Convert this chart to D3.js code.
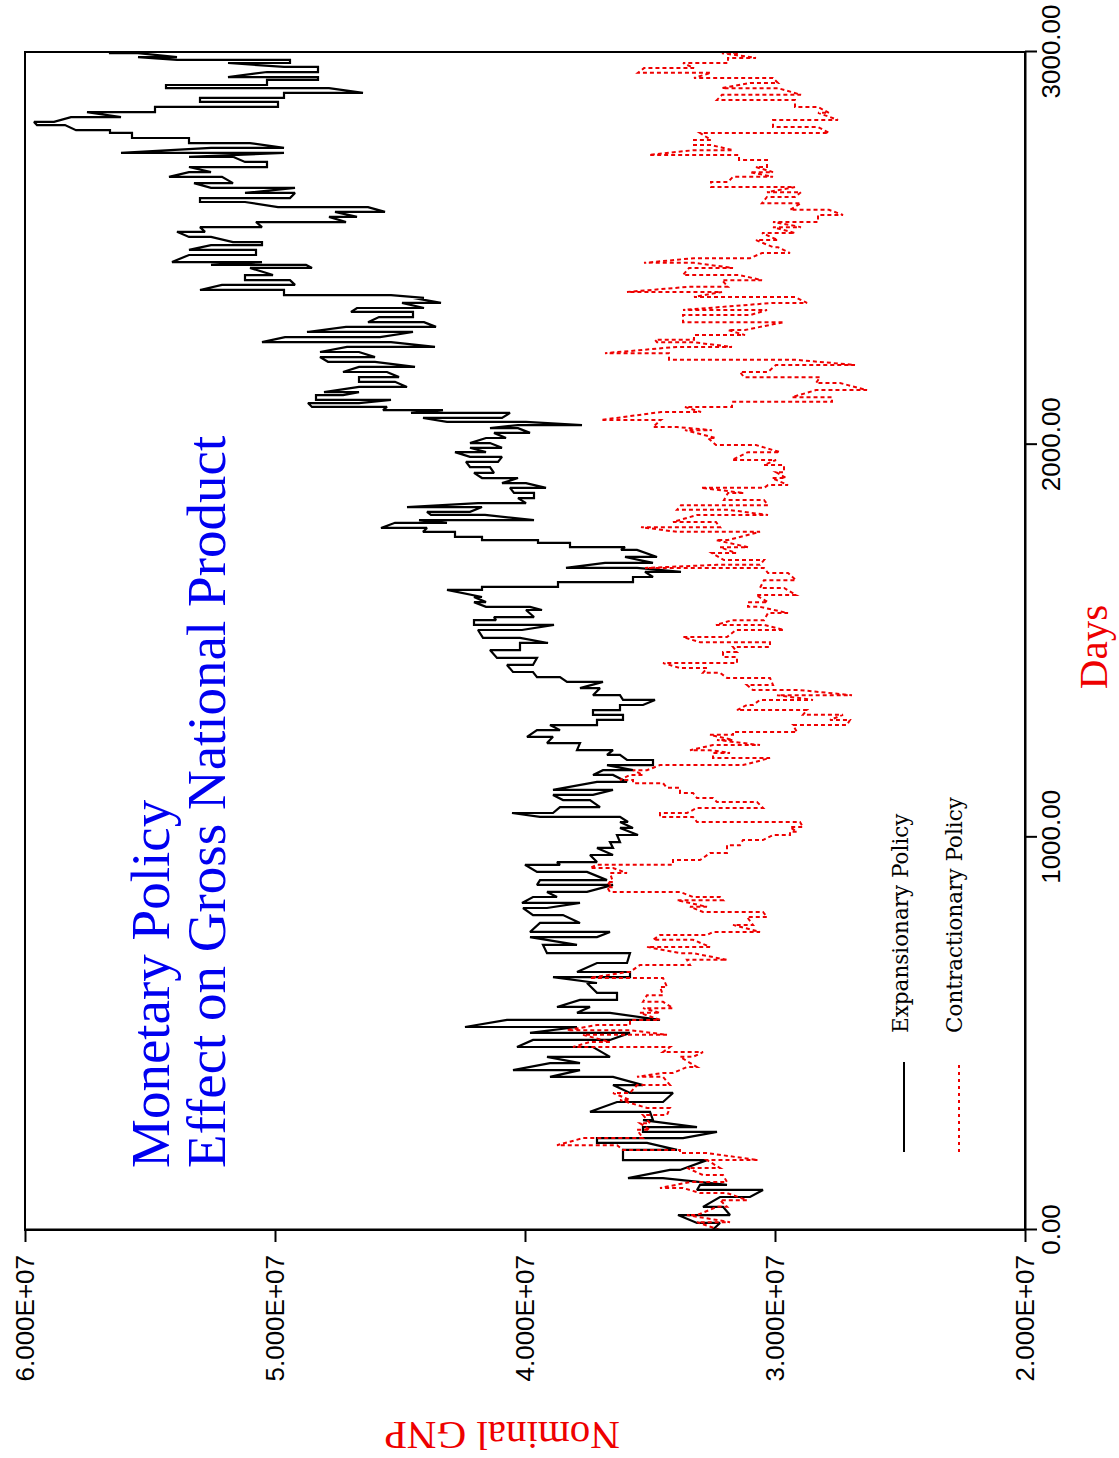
<!DOCTYPE html>
<html><head><meta charset="utf-8">
<script src="https://cdn.jsdelivr.net/npm/d3@7"></script>
<style>html,body{margin:0;padding:0;background:#fff;} svg{display:block;}</style>
</head><body>
<svg id="chart" width="1119" height="1458"></svg>
<script>
// ---------------- DATA ----------------
// Days axis ticks and GNP axis ticks (GNP values in millions)
const dayTicks = [0, 1000, 2000, 3000];
const gnpTicks = [20, 30, 40, 50, 60];

// Expansionary policy: each row = one day with the two extremes reached that day (millions)
const expDays = [
0,18,38,59,84,102,115,132,153,178,
204,222,234,250,262,280,301,326,349,369,
390,407,425,441,466,484,502,517,535,553,
568,586,604,629,644,657,680,705,726,746,
759,782,802,820,833,848,861,879,891,912,
930,937,955,973,988,1006,1024,1039,1052,1062,
1077,1095,1108,1121,1141,1159,1171,1184,1197,1210,
1222,1240,1256,1273,1286,1299,1312,1324,1337,1350,
1362,1380,1396,1408,1421,1439,1457,1477,1495,1508,
1528,1541,1553,1561,1579,1587,1599,1612,1630,1638,
1650,1663,1676,1686,1699,1714,1732,1739,1750,1757,
1765,1778,1788,1801,1808,1821,1829,1841,1851,1864,
1877,1890,1902,1915,1928,1943,1956,1969,1981,1992,
2004,2017,2030,2042,2050,2058,2068,2081,2088,2096,
2106,2114,2126,2134,2147,2160,2172,2185,2198,2211,
2223,2236,2249,2261,2274,2287,2300,2312,2325,2338,
2348,2361,2374,2381,2394,2407,2419,2432,2450,2458,
2465,2483,2496,2508,2516,2529,2542,2554,2567,2580,
2593,2605,2618,2628,2641,2654,2666,2682,2694,2707,
2720,2733,2743,2756,2768,2781,2794,2801,2814,2822,
2834,2847,2860,2873,2883,2896,2908,2916,2929,2936,
2949,2962,2972,2980,2987,2997,3000];
const expA = [
32.5,32.2,33.88,32.08,32.2,30.48,33.0,34.48,34.2,32.72,
36.08,35.12,37.12,32.32,35.28,35.28,35.0,36.32,34.08,36.48,
36.48,37.8,39.0,39.12,37.28,39.68,35.8,37.92,40.72,36.6,
37.4,37.8,36.32,37.52,38.88,35.8,37.12,35.8,39.28,39.8,
36.6,39.4,38.48,40.08,37.8,39.68,39.12,36.48,39.4,37.52,
40.0,38.72,37.4,37.12,36.6,36.32,36.2,36.2,36.2,40.52,
38.6,37.4,38.88,36.48,37.12,36.48,36.88,36.72,34.88,36.2,
36.48,37.8,38.88,39.52,39.0,37.12,36.08,37.28,36.2,34.8,
36.2,37.0,36.88,38.6,39.68,40.72,39.52,41.4,40.2,40.2,
41.88,38.84,42.04,41.24,39.96,39.8,42.04,42.04,43.12,41.72,
38.68,35.68,35.2,35.52,36.8,36.0,35.52,36.0,38.2,39.48,
41.72,42.8,43.92,45.2,44.24,41.6,43.92,41.72,41.88,40.28,
39.64,40.6,39.96,40.28,42.04,41.4,42.36,40.92,42.8,42.2,
41.4,41.56,41.24,40.28,40.28,39.96,44.08,40.6,43.28,45.52,
48.68,45.36,48.36,46.64,46.64,45.2,46.64,45.52,46.64,46.0,
48.2,46.64,47.12,45.36,49.6,44.48,47.16,44.04,45.84,44.48,
46.72,44.92,44.48,45.36,49.64,52.12,49.4,51.2,51.0,48.76,
50.52,53.44,50.76,52.56,50.52,52.56,53.92,53.0,50.76,47.84,
47.6,46.28,51.2,53.0,49.2,49.2,53.24,52.12,53.44,53.44,
50.32,51.68,49.64,52.56,51.0,53.44,55.72,56.6,58.4,59.64,
58.16,57.52,54.8,49.88,53.0,49.64,47.84,54.36,50.32,48.28,
50.32,48.28,51.88,49.4,55.48,55.48,56.6];
const expB = [
32.5,33.12,31.8,32.88,31.0,33.12,31.92,35.88,33.8,36.08,
33.92,37.12,33.68,35.28,33.12,34.88,37.4,34.48,35.8,35.28,
39.0,40.48,37.8,36.6,40.32,36.6,39.8,42.4,34.6,37.92,
38.72,36.32,37.12,37.12,35.8,37.92,35.92,39.12,37.92,37.12,
39.8,37.8,39.68,39.12,40.12,38.72,37.52,39.52,36.72,39.52,
38.6,37.12,36.48,36.48,36.2,35.48,35.68,35.88,39.4,38.88,
37.0,38.48,37.28,38.88,35.92,37.28,35.68,34.88,35.92,36.72,
37.92,39.12,39.92,38.6,37.12,36.08,37.28,36.2,35.28,36.08,
37.28,37.8,38.32,39.52,40.48,39.68,41.12,40.2,39.08,41.68,
40.12,42.04,41.16,39.64,39.32,41.56,41.56,41.72,41.72,38.68,
35.68,34.88,33.76,38.36,34.88,34.72,36.16,38.2,39.48,41.72,
42.8,44.08,45.76,43.12,39.64,43.76,42.2,44.72,39.96,39.64,
40.44,39.16,40.92,41.72,41.24,42.2,41.08,42.2,41.56,40.92,
42.2,40.76,39.8,41.4,37.72,43.12,40.92,44.56,45.68,48.52,
46.64,48.36,47.28,48.04,44.72,46.64,45.04,47.28,44.4,47.88,
46.0,48.2,43.6,50.52,45.8,48.72,43.56,46.28,44.48,46.96,
44.04,43.36,44.04,49.64,53.0,49.2,51.2,50.08,48.52,52.56,
54.12,50.76,53.44,50.52,51.68,53.44,52.8,50.52,47.16,46.72,
45.6,49.88,53.0,49.4,51.2,52.56,51.68,54.24,52.56,50.32,
51.2,53.44,56.16,49.64,53.44,55.72,56.6,57.96,59.52,58.84,
56.16,54.8,49.88,53.0,49.64,46.48,54.36,50.32,48.28,51.88,
48.28,49.64,49.4,53.92,53.92,56.6,56.6];

// Contractionary policy
const conDays = [
0,20,38,59,76,94,107,122,140,158,
178,196,204,216,234,255,272,293,311,331,
349,369,390,400,415,441,453,466,479,497,
509,522,535,553,565,581,598,619,642,657,
675,688,705,721,739,751,759,777,797,810,
823,840,848,861,873,886,909,922,930,942,
960,980,993,1006,1014,1026,1039,1052,1062,1075,
1090,1100,1113,1126,1138,1146,1159,1171,1184,1202,
1215,1222,1235,1248,1261,1268,1286,1299,1312,1324,
1337,1350,1362,1375,1388,1406,1419,1431,1444,1459,
1472,1485,1497,1510,1528,1541,1553,1571,1587,1599,
1617,1635,1655,1673,1686,1694,1706,1724,1739,1757,
1778,1790,1803,1821,1834,1846,1859,1877,1890,1897,
1915,1930,1948,1961,1981,1999,2017,2037,2045,2063,
2083,2096,2109,2121,2139,2157,2172,2185,2203,2216,
2233,2249,2261,2267,2279,2292,2312,2330,2343,2361,
2376,2389,2402,2419,2432,2450,2463,2475,2488,2503,
2521,2539,2554,2567,2585,2598,2615,2631,2643,2656,
2669,2682,2694,2707,2725,2738,2750,2763,2776,2794,
2809,2827,2845,2860,2878,2891,2908,2921,2934,2947,
2959,2972,2985,2997,3000];
const conA = [
32.2,33.12,33.52,32.32,32.2,31.92,33.68,33.4,32.08,33.52,
32.72,32.72,33.8,36.32,37.68,35.52,35.4,35.28,34.2,36.2,
36.48,35.52,34.48,34.48,33.52,33.8,32.88,34.2,37.4,37.68,
35.8,37.12,35.8,35.4,35.28,34.48,35.12,34.6,34.48,35.92,
35.4,33.52,33.28,35.12,33.28,34.6,32.48,31.68,31.12,30.48,
33.4,33.92,32.2,33.8,36.72,36.72,36.6,36.48,37.12,34.08,
32.6,31.92,31.28,30.08,29.4,29.4,29.0,33.28,34.6,33.12,
30.72,32.48,33.28,33.8,34.48,35.68,35.8,35.68,34.6,30.2,
32.48,32.6,32.48,32.32,32.6,31.68,29.28,27.0,27.28,28.72,
31.12,30.6,29.92,29.0,31.12,30.2,32.2,32.72,34.48,31.52,
32.08,31.68,30.2,33.68,31.56,30.44,31.72,30.28,30.6,31.08,
30.76,29.64,30.44,29.48,30.44,32.32,30.44,32.52,32.2,32.36,
30.6,35.36,32.36,33.12,31.88,33.76,30.44,31.88,32.96,30.28,
30.12,29.96,29.64,29.96,31.08,30.76,32.68,33.6,33.92,34.56,
34.56,33.6,31.72,27.72,28.36,27.4,28.2,31.4,29.96,29.16,
34.24,33.92,33.28,34.8,33.24,31.88,29.64,33.68,30.32,30.08,
29.2,32.12,33.44,32.12,31.44,33.44,33.24,33.24,30.52,29.88,
30.76,30.52,30.08,30.08,28.28,27.84,28.96,30.32,28.96,29.2,
32.56,31.68,31.0,30.76,30.32,31.44,33.24,32.56,33.24,33.0,
28.28,30.08,28.28,28.28,29.2,32.12,29.88,31.0,30.08,32.56,
35.24,33.68,31.88,32.12,32.2];
const conB = [
32.2,31.8,33.12,31.92,31.12,33.0,34.6,31.92,32.88,32.2,
30.68,33.8,36.08,38.72,35.28,35.0,35.0,34.32,35.12,35.8,
35.8,34.2,35.52,34.08,33.12,33.28,34.48,38.08,36.6,34.32,
38.32,35.8,34.6,34.6,34.08,35.28,34.48,34.32,37.4,35.8,
33.4,31.92,33.8,32.6,34.88,32.72,30.6,30.88,30.32,32.88,
32.72,32.08,33.28,36.6,36.48,36.48,35.92,37.4,34.08,33.0,
31.92,31.4,30.48,29.4,29.12,28.88,33.12,34.6,33.52,30.48,
32.32,33.12,33.8,34.32,35.68,36.2,35.28,35.12,31.28,32.48,
31.8,33.4,30.6,31.68,31.68,29.12,27.12,27.8,28.88,31.52,
30.88,28.48,26.92,30.88,30.08,31.92,32.88,33.8,31.52,32.08,
31.52,30.2,33.0,31.92,29.64,32.36,30.44,29.48,31.08,30.28,
29.16,30.6,29.16,30.28,35.2,30.6,32.04,31.56,31.08,31.88,
33.92,32.2,34.08,30.28,33.92,30.28,32.04,31.24,30.44,29.48,
29.56,29.64,30.44,31.72,29.8,32.36,32.36,32.52,34.88,36.96,
32.96,31.72,27.72,29.32,26.32,28.36,31.24,30.28,26.8,34.24,
36.8,31.72,34.72,33.24,31.2,31.2,33.68,31.0,33.68,28.72,
33.24,35.92,31.88,30.52,33.68,31.68,35.24,31.0,29.4,30.08,
29.88,29.2,28.96,28.28,27.28,29.4,30.52,29.2,30.32,32.56,
31.88,30.08,30.08,30.32,31.44,35.04,31.68,33.24,32.56,27.84,
30.08,27.48,27.84,29.2,32.32,28.96,32.12,29.88,33.24,35.48,
33.24,31.88,30.76,31.44,32.2];

const titleLines = ["Monetary Policy", "Effect on Gross National Product"];
const seriesNames = ["Expansionary Policy", "Contractionary Policy"];
const xLabel = "Days";
const yLabel = "Nominal GNP";

// ---------------- DRAWING ----------------
const W = 1119, H = 1458;
const svg = d3.select("#chart");
svg.append("rect").attr("width", W).attr("height", H).attr("fill", "#fff");

// Whole chart is drawn as a normal chart, then rotated 90 degrees counter-clockwise.
const g = svg.append("g").attr("transform", `translate(0,${H}) rotate(-90)`);

const x = d3.scaleLinear().domain([0, 3000]).range([228, 1406]);
const y = d3.scaleLinear().domain([20, 60]).range([1025, 25]);

function buildPoints(days, a, b) {
  const n = Math.min(days.length, a.length, b.length);
  const pts = [];
  for (let i = 0; i < n; i++) { pts.push([days[i], a[i]]); pts.push([days[i], b[i]]); }
  return pts;
}
const line = d3.line().x(d => x(d[0])).y(d => y(d[1])).curve(d3.curveLinear);

const RED = "#ee0000";
const BLUE = "#0000f0";

// series
g.append("path").datum(buildPoints(expDays, expA, expB))
  .attr("d", line).attr("fill", "none").attr("stroke", "#000").attr("stroke-width", 2.2)
  .attr("stroke-linejoin", "miter").attr("stroke-miterlimit", 2);
g.append("path").datum(buildPoints(conDays, conA, conB))
  .attr("d", line).attr("fill", "none").attr("stroke", RED).attr("stroke-width", 2)
  .attr("stroke-dasharray", "4,3");

// frame
const [x0, x1] = x.range(), [y1, y0] = y.range();
g.append("rect").attr("x", x0).attr("y", y0).attr("width", x1 - x0).attr("height", y1 - y0)
  .attr("fill", "none").attr("stroke", "#000").attr("stroke-width", 2);

function fmtE(v) {
  const val = v * 1e6;
  const e = Math.floor(Math.log10(val));
  const m = val / Math.pow(10, e);
  return m.toFixed(3) + "E+" + String(e).padStart(2, "0");
}

const xAxis = d3.axisBottom(x).tickValues(dayTicks).tickSize(12).tickSizeOuter(0)
  .tickPadding(5).tickFormat(d3.format(".2f"));
const yAxis = d3.axisLeft(y).tickValues(gnpTicks).tickSize(12).tickSizeOuter(0)
  .tickPadding(13).tickFormat(fmtE);

const gx = g.append("g").attr("transform", `translate(0,${y(20)})`).call(xAxis);
const gy = g.append("g").attr("transform", `translate(${x(0)},0)`).call(yAxis);
[gx, gy].forEach(a => {
  a.select(".domain").attr("stroke", "#000").attr("stroke-width", 2);
  a.selectAll(".tick line").attr("stroke", "#000").attr("stroke-width", 2);
  a.selectAll(".tick text").attr("font-family", "'Liberation Sans', Arial, sans-serif")
    .attr("font-size", 26).attr("fill", "#000");
});

// axis titles
g.append("text").attr("x", (x0 + x1) / 2 - 6).attr("y", 1107)
  .attr("text-anchor", "middle").attr("font-family", "'Liberation Serif', 'Times New Roman', serif")
  .attr("font-size", 41).attr("fill", RED).text(xLabel);
g.append("text").attr("transform", `translate(36,${(y0 + y1) / 2 - 23}) rotate(-90)`)
  .attr("text-anchor", "middle").attr("font-family", "'Liberation Serif', 'Times New Roman', serif")
  .attr("font-size", 41).attr("fill", RED).text(yLabel);

// title
const titleY = [169, 225];
titleLines.forEach((t, i) => {
  g.append("text").attr("x", 290).attr("y", titleY[i])
    .attr("font-family", "'Liberation Serif', 'Times New Roman', serif")
    .attr("font-size", 55).attr("fill", BLUE).text(t);
});

// legend
const legendItems = [
  { name: seriesNames[0], color: "#000", dash: null, v: 904, tv: 908 },
  { name: seriesNames[1], color: RED, dash: "3,4", v: 959, tv: 962 }
];
legendItems.forEach(d => {
  g.append("line").attr("x1", 306).attr("x2", 396).attr("y1", d.v).attr("y2", d.v)
    .attr("stroke", d.color).attr("stroke-width", 2).attr("stroke-dasharray", d.dash);
  g.append("text").attr("x", 425).attr("y", d.tv)
    .attr("font-family", "'DejaVu Serif', serif").attr("font-size", 21.5)
    .attr("fill", "#000").text(d.name);
});
</script>
</body></html>
